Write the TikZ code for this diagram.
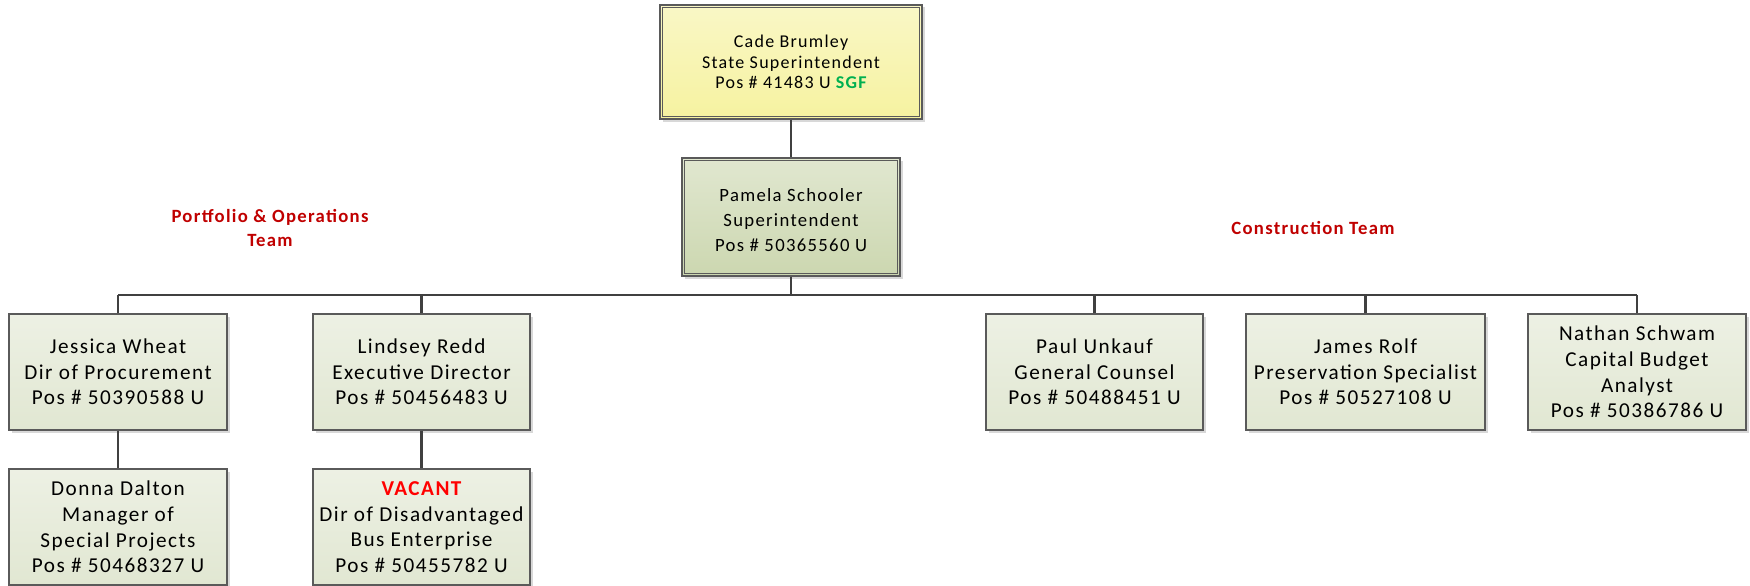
\documentclass[tikz,border=0pt]{standalone}
\usepackage{fontspec}
\setmainfont{Carlito}[LetterSpace=7]
\usetikzlibrary{shadows}
\definecolor{boxline}{HTML}{5A5A5A}
\definecolor{connline}{HTML}{404040}
\definecolor{teamred}{HTML}{C00000}
\definecolor{sgfgreen}{HTML}{00B050}
\definecolor{vacred}{HTML}{FF0000}
\definecolor{greenA}{HTML}{E1E7D2}
\definecolor{greenB}{HTML}{CCD7B0}
\definecolor{yellowA}{HTML}{F6F2A0}
\tikzset{
  pbox/.style={draw=boxline, line width=1.2pt, rectangle, align=center,
    top color=#1!60!white, bottom color=#1, inner sep=2pt,
    drop shadow={shadow xshift=2.5pt, shadow yshift=-2.5pt, opacity=0.25, fill=black!60},
    font=\fontsize{21.2}{25.7}\selectfont},
  staffbox/.style={pbox=greenA, minimum width=218pt, minimum height=116pt},
  conn/.style={draw=connline, line width=2.4pt},
  inset/.style={draw=boxline, line width=1.1pt},
  teamlabel/.style={text=teamred, font=\fontsize{18.7}{23.4}\selectfont\bfseries, align=center}
}
\begin{document}
\begin{tikzpicture}[x=1pt,y=-1pt]
\useasboundingbox[fill=white] (0,0) rectangle (1750,586);
\coordinate (busy) at (0,295);

\node[pbox=yellowA, minimum width=262pt, minimum height=114pt,
  font=\fontsize{18}{20.7}\selectfont] (top) at (791,62)
  {Cade Brumley\\State Superintendent\\ Pos \# 41483 U {\bfseries\color{sgfgreen}SGF}};
\draw[inset] ([shift={(3.5,3.5)}]top.north west) rectangle ([shift={(-3.5,-3.5)}]top.south east);

\node[pbox=greenB, minimum width=218pt, minimum height=118pt,
  font=\fontsize{18.7}{25}\selectfont] (pam) at (791,217) {};
\node[font=\fontsize{18.7}{25}\selectfont, align=center] (pamtext) at (791,220.5)
  {Pamela Schooler\\Superintendent\\Pos \# 50365560 U};
\draw[inset] ([shift={(3.5,3.5)}]pam.north west) rectangle ([shift={(-3.5,-3.5)}]pam.south east);

\node[staffbox] (jes) at (118,372) {Jessica Wheat\\Dir of Procurement\\Pos \# 50390588 U};
\node[staffbox, minimum width=217pt] (lin) at (421.5,372) {Lindsey Redd\\Executive Director\\Pos \# 50456483 U};
\node[staffbox, minimum width=217pt] (paul) at (1094.5,372) {Paul Unkauf\\General Counsel\\Pos \# 50488451 U};
\node[staffbox, minimum width=239pt] (james) at (1365.5,372) {James Rolf\\Preservation Specialist\\Pos \# 50527108 U};
\node[staffbox] (nathan) at (1637,372) {Nathan Schwam\\Capital Budget\\Analyst\\Pos \# 50386786 U};
\node[staffbox] (donna) at (118,527) {Donna Dalton\\Manager of\\Special Projects\\Pos \# 50468327 U};
\node[staffbox, minimum width=217pt] (vac) at (421.5,527) {{\bfseries\color{vacred}VACANT}\\Dir of Disadvantaged\\Bus Enterprise\\Pos \# 50455782 U};

\node[teamlabel] (portfolio) at (270,228) {Portfolio \& Operations\\Team};
\node[teamlabel] (construction) at (1313,228) {Construction Team};

\draw[conn] (top.south) -- (pam.north);
\draw[conn] (pam.south) -- (pam.south |- busy);
\draw[conn] (jes.north |- busy) -- (nathan.north |- busy);
\foreach \c in {jes,lin,paul,james,nathan}{
  \draw[conn] (\c.north) -- (\c.north |- busy);
}
\draw[conn] (jes.south) -- (donna.north);
\draw[conn] (lin.south) -- (vac.north);
\end{tikzpicture}
\end{document}
